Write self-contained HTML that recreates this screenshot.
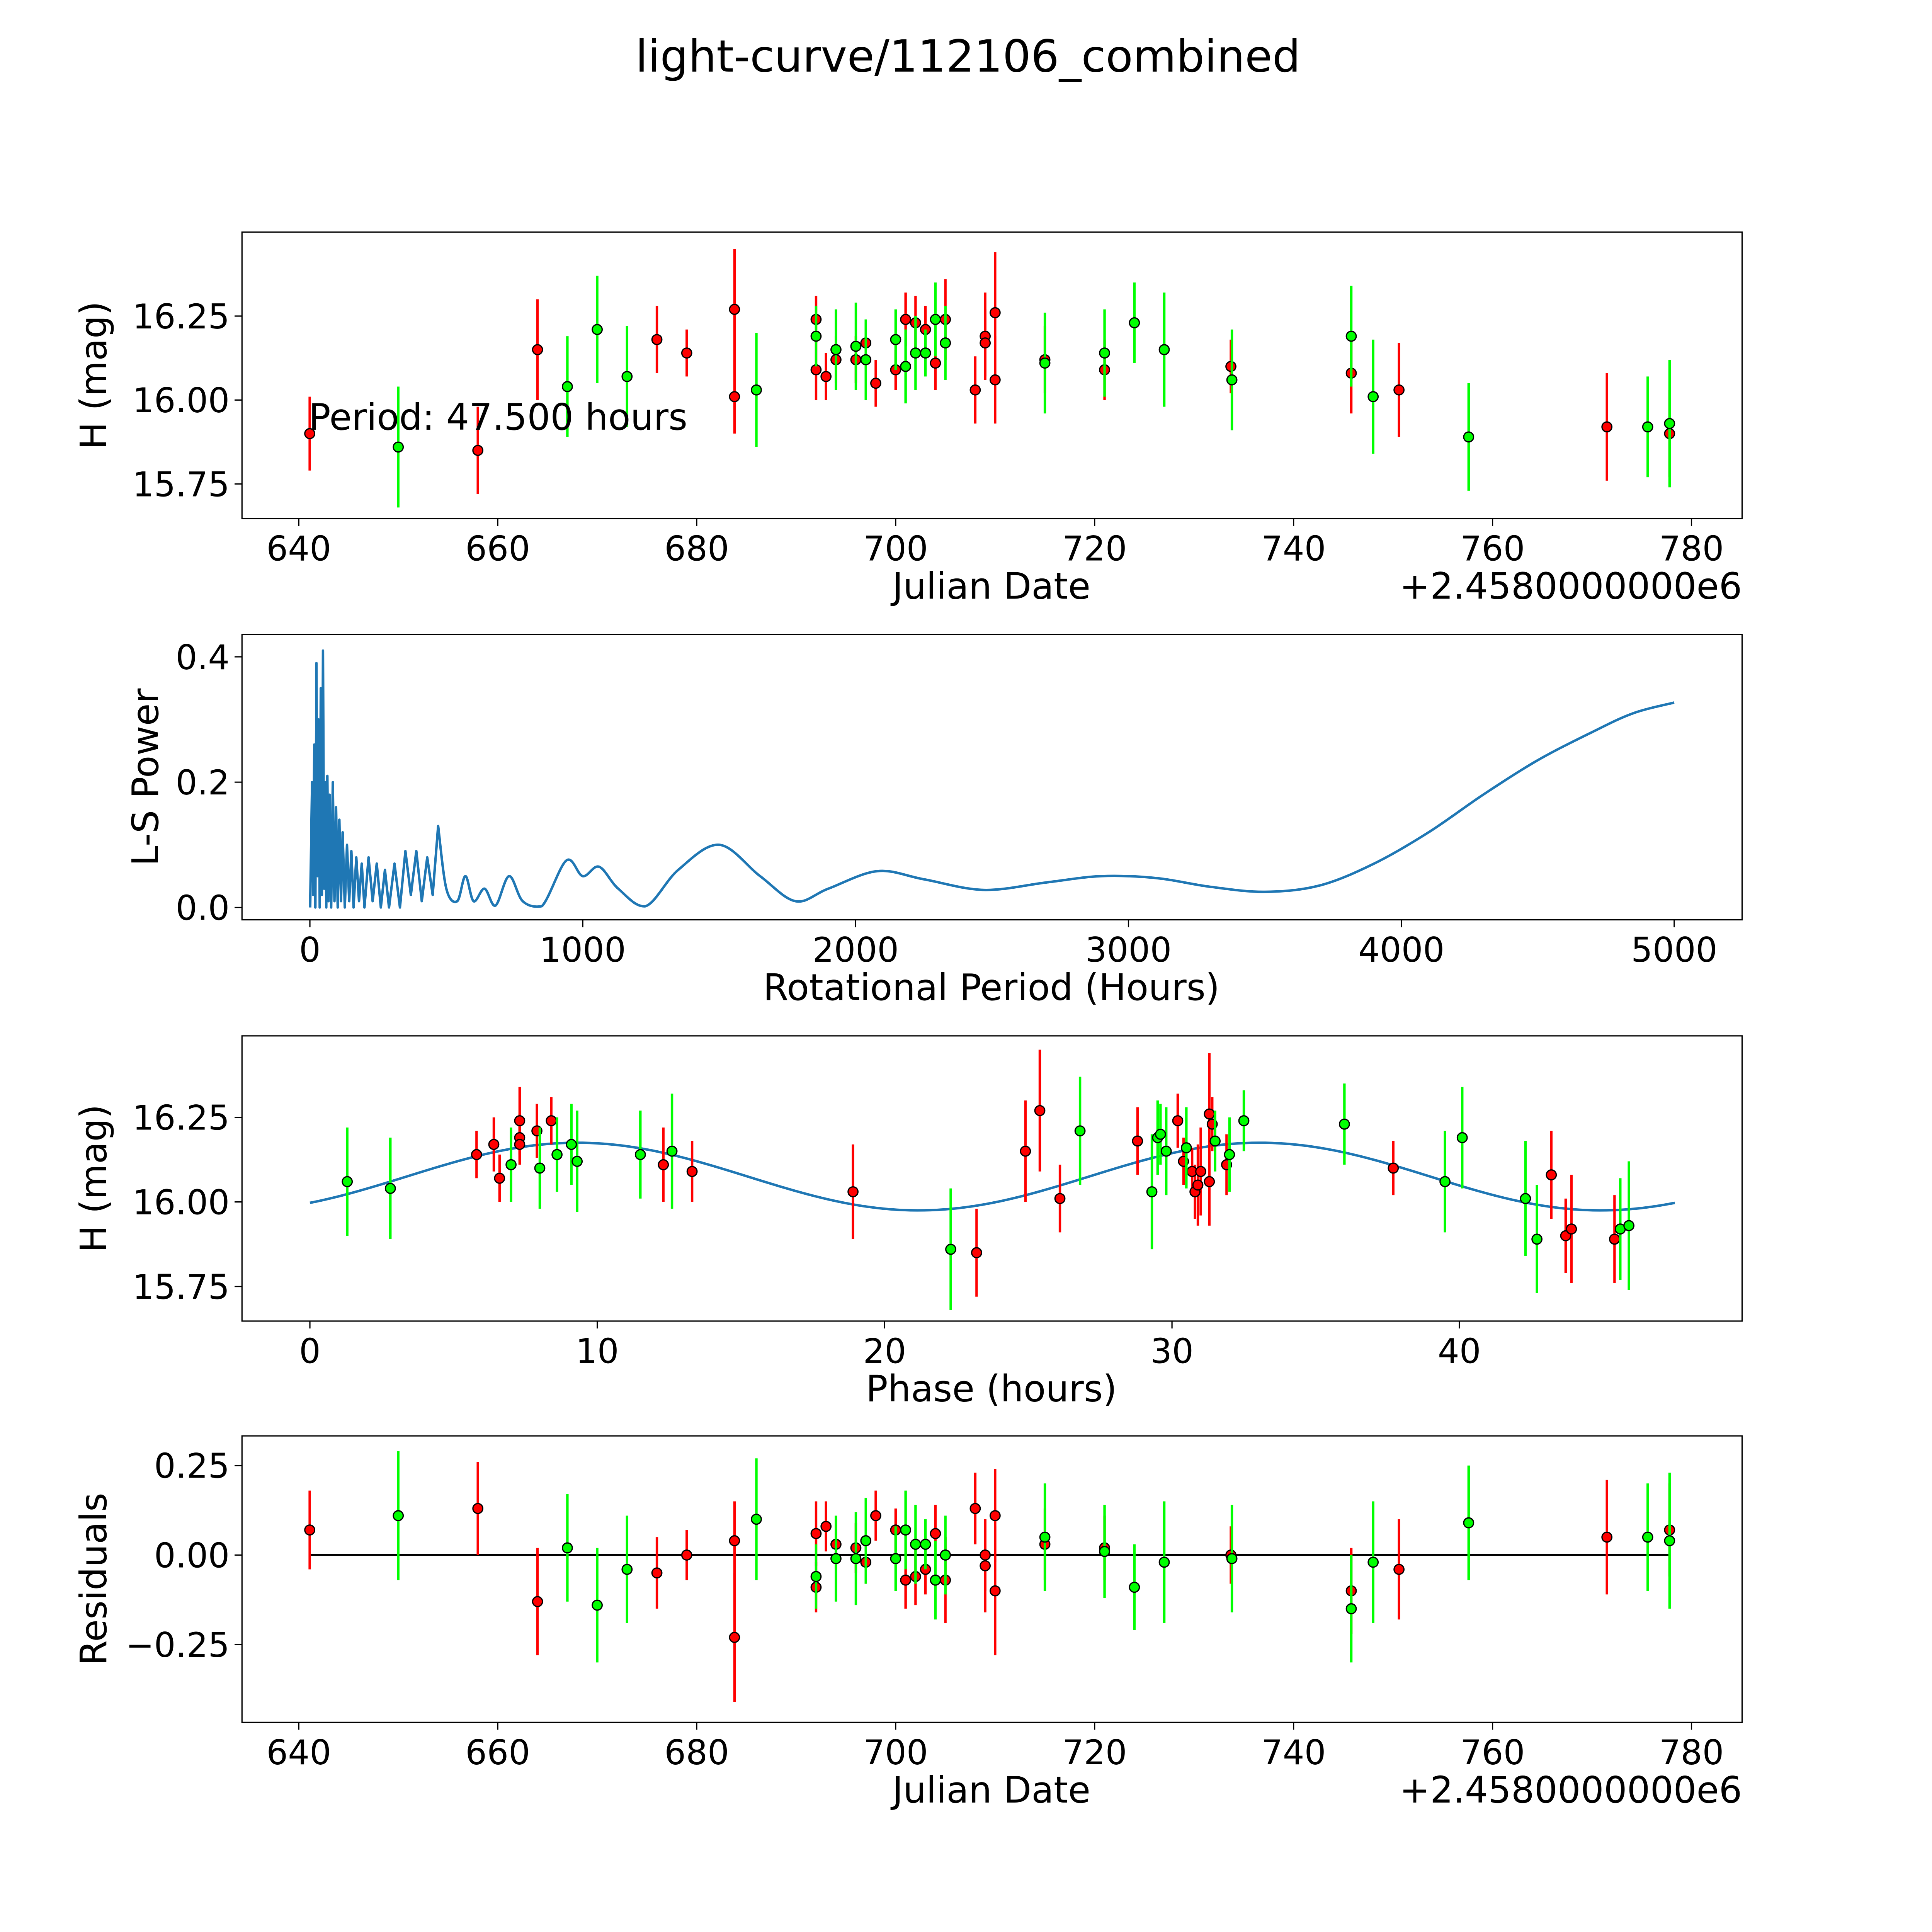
<!DOCTYPE html>
<html><head><meta charset="utf-8"><style>html,body{margin:0;padding:0;background:#fff;overflow:hidden;width:5400px;height:5400px}svg{display:block}</style></head>
<body>
<svg id="fig" xmlns="http://www.w3.org/2000/svg" width="5400" height="5400" viewBox="0 0 1690 1690" font-family="'DejaVu Sans','Liberation Sans',sans-serif">
<rect width="1690" height="1690" fill="#fff"/>
<text x="784" y="58" font-size="36" text-anchor="middle">light-curve/112106_combined</text>
</svg>
<script>
const redJD=[641.1,658,664,676,679,683.8,683.8,692,692,693,694,696,697,698,700,701,702,703,704,705,708,709,709,710,710,715,721,733.7,745.8,750.6,771.5,777.8];
const redMag=[15.90,15.85,16.15,16.18,16.14,16.27,16.01,16.24,16.09,16.07,16.12,16.12,16.17,16.05,16.09,16.24,16.23,16.21,16.11,16.24,16.03,16.19,16.17,16.26,16.06,16.12,16.09,16.10,16.08,16.03,15.92,15.90];
const redErr=[0.11,0.13,0.15,0.1,0.07,0.18,0.11,0.07,0.09,0.07,0.07,0.07,0.06,0.07,0.06,0.08,0.08,0.07,0.08,0.12,0.1,0.13,0.1,0.18,0.13,0.1,0.09,0.08,0.12,0.14,0.16,0.13];
const redRes=[0.07,0.13,-0.13,-0.05,0.0,-0.23,0.04,-0.09,0.06,0.08,0.03,0.02,-0.02,0.11,0.07,-0.07,-0.06,-0.04,0.06,-0.07,0.13,-0.03,0.0,-0.10,0.11,0.03,0.02,0.0,-0.10,-0.04,0.05,0.07];
const greenJD=[650,667,670,673,686,692,694,696,697,700,701,702,703,704,705,715,721,724,727,733.8,745.8,748,757.6,775.6,777.8];
const greenMag=[15.86,16.04,16.21,16.07,16.03,16.19,16.15,16.16,16.12,16.18,16.10,16.14,16.14,16.24,16.17,16.11,16.14,16.23,16.15,16.06,16.19,16.01,15.89,15.92,15.93];
const greenErr=[0.18,0.15,0.16,0.15,0.17,0.09,0.12,0.13,0.12,0.09,0.11,0.11,0.07,0.11,0.11,0.15,0.13,0.12,0.17,0.15,0.15,0.17,0.16,0.15,0.19];
const greenRes=[0.11,0.02,-0.14,-0.04,0.10,-0.06,-0.01,-0.01,0.04,-0.01,0.07,0.03,0.03,-0.07,0.0,0.05,0.01,-0.09,-0.02,-0.01,-0.15,-0.02,0.09,0.05,0.04];
const redPhase=[5.8,6.4,6.6,7.3,7.3,7.3,7.9,8.4,12.3,13.3,18.9,23.2,24.9,25.4,26.1,28.8,30.2,30.4,30.7,30.8,30.9,31.0,31.3,31.3,31.4,31.9,37.7,43.2,43.7,43.9,45.4];
const redPhaseMag=[16.14,16.17,16.07,16.24,16.19,16.17,16.21,16.24,16.11,16.09,16.03,15.85,16.15,16.27,16.01,16.18,16.24,16.12,16.09,16.03,16.05,16.09,16.26,16.06,16.23,16.11,16.10,16.08,15.90,15.92,15.89];
const redPhaseErr=[0.07,0.08,0.07,0.1,0.07,0.06,0.08,0.07,0.11,0.09,0.14,0.13,0.15,0.18,0.1,0.1,0.08,0.07,0.07,0.08,0.12,0.13,0.18,0.13,0.08,0.09,0.08,0.13,0.11,0.16,0.13];
const greenPhase=[1.3,2.8,7.0,8.0,8.6,9.1,9.3,11.5,12.6,22.3,26.8,29.3,29.5,29.6,29.8,30.5,31.5,32.0,32.5,36.0,39.5,40.1,42.3,42.7,45.6,45.9];
const greenPhaseMag=[16.06,16.04,16.11,16.10,16.14,16.17,16.12,16.14,16.15,15.86,16.21,16.03,16.19,16.20,16.15,16.16,16.18,16.14,16.24,16.23,16.06,16.19,16.01,15.89,15.92,15.93];
const greenPhaseErr=[0.16,0.15,0.11,0.12,0.11,0.12,0.15,0.13,0.17,0.18,0.16,0.17,0.11,0.09,0.13,0.12,0.09,0.11,0.09,0.12,0.15,0.15,0.17,0.16,0.15,0.19];
const lsPeriod=[1,8,12,16,20,24,28,32,36,40,44,48,52,56,60,64,68,72,78,84,90,96,102,108,114,120,128,136,144,152,160,170,180,190,200,215,230,245,260,275,290,310,330,350,370,390,410,430,450,470,500,540,570,600,640,680,730,780,850,940,1000,1060,1130,1230,1350,1500,1650,1780,1900,2080,2250,2470,2700,2900,3100,3300,3500,3700,3900,4100,4300,4500,4700,4850,5000];
const lsPower=[0,0.2,0.02,0.26,0,0.39,0.05,0.3,0,0.35,0.02,0.41,0.03,0.2,0,0.21,0.01,0.18,0,0.2,0.01,0.16,0,0.14,0.01,0.12,0,0.1,0.01,0.09,0,0.08,0.01,0.07,0,0.08,0.01,0.07,0,0.06,0,0.07,0,0.09,0.02,0.09,0.01,0.08,0.02,0.13,0.03,0.01,0.05,0.01,0.03,0.003,0.05,0.01,0.002,0.075,0.05,0.065,0.03,0.002,0.06,0.1,0.05,0.01,0.03,0.058,0.045,0.028,0.04,0.05,0.047,0.033,0.025,0.035,0.07,0.12,0.18,0.235,0.28,0.31,0.327];
const jdTicks=[640,660,680,700,720,740,760,780];
const magTicks=[15.75,16.00,16.25];
const lsXTicks=[0,1000,2000,3000,4000,5000];
const lsYTicks=[0.0,0.2,0.4];
const phTicks=[0,10,20,30,40];
const resTicks=[-0.25,0.00,0.25];
const PERIOD=47.5, MEAN=16.075, AMP=0.1, PEAK=9.3;

const svg=document.getElementById('fig');const NS='http://www.w3.org/2000/svg';
function el(t,a,p){const e=document.createElementNS(NS,t);for(const k in a)e.setAttribute(k,a[k]);(p||svg).appendChild(e);return e;}
function lin(d0,d1,r0,r1){return v=>r0+(v-d0)*(r1-r0)/(d1-d0);}
const model=p=>MEAN+AMP*Math.cos(2*Math.PI*(p-PEAK)/(PERIOD/2));

function axes(name,y0,y1,xs,ys,xt,yt,xfmt,yfmt,xlabel,ylabel,offset){
  const g=el('g',{});
  el('rect',{x:196,y:y0,width:1215,height:y1-y0,fill:'none',stroke:'#000','stroke-width':1},g);
  xt.forEach(v=>{const x=xs(v);el('line',{x1:x,x2:x,y1:y1,y2:y1+6,stroke:'#000'},g);
    const t=el('text',{x:x,y:y1+34,'font-size':27.5,'text-anchor':'middle'},g);t.textContent=xfmt(v);
    });
  yt.forEach(v=>{const y=ys(v);el('line',{x1:190,x2:196,y1:y,y2:y,stroke:'#000'},g);
    const t=el('text',{x:186,y:y+10,'font-size':27.5,'text-anchor':'end'},g);t.textContent=yfmt(v);
    });
  const xl=el('text',{x:803,y:y1+65,'font-size':29.5,'text-anchor':'middle'},g);xl.textContent=xlabel;
  
  const cy=(y0+y1)/2;const yl=el('text',{x:0,y:0,'font-size':29.5,'text-anchor':'middle',transform:`translate(${ylabel[1]},${cy}) rotate(-90)`},g);yl.textContent=ylabel[0];
  
  if(offset){const o=el('text',{x:1411,y:y1+65,'font-size':29.5,'text-anchor':'end'},g);o.textContent=offset;
    }
  return g;
}
function pts(g,xsArr,ysArr,es,color,xs,ys){
  xsArr.forEach((xv,i)=>{const x=xs(xv);
    const l=el('line',{x1:x,x2:x,y1:ys(ysArr[i]+es[i]),y2:ys(ysArr[i]-es[i]),stroke:color,'stroke-width':2},g);
    });
  xsArr.forEach((xv,i)=>{const c=el('circle',{cx:xs(xv),cy:ys(ysArr[i]),r:4,fill:color,stroke:'#000','stroke-width':1},g);
    });
}
const f2=v=>v.toFixed(2), f1=v=>v.toFixed(1), f0=v=>String(v);
const fr=v=>(v<0?'\u22120.25':v.toFixed(2));

// Panel 1
let xs=lin(640,780,242,1370),ys=lin(16.25,15.75,256,392);
let g=axes('light-curve-panel',188,420,xs,ys,jdTicks,magTicks,f0,f2,'Julian Date',['H (mag)',86],'+2.4580000000e6');
pts(g,redJD,redMag,redErr,'#ff0000',xs,ys);pts(g,greenJD,greenMag,greenErr,'#00ff00',xs,ys);
let pt=el('text',{x:250,y:348,'font-size':29.5},g);pt.textContent='Period: 47.500 hours';


// Panel 2
xs=lin(0,5000,251,1356);ys=lin(0,0.4,735,532);
g=axes('periodogram-panel',514,745,xs,ys,lsXTicks,lsYTicks,f0,f1,'Rotational Period (Hours)',['L-S Power',128]);
(function(){
  const P=lsPeriod.map((p,i)=>[xs(p),ys(lsPower[i])]);
  const split=lsPeriod.findIndex(p=>p>=470);
  let d='M'+P[0][0]+','+P[0][1];
  for(let i=1;i<=split;i++)d+=' L'+P[i][0]+','+P[i][1];
  for(let i=split;i<P.length-1;i++){
    const p0=P[Math.max(i-1,split)],p1=P[i],p2=P[i+1],p3=P[Math.min(i+2,P.length-1)];
    const lo=ys(0);
    const c1=[p1[0]+(p2[0]-p0[0])/6,Math.min(lo,p1[1]+(p2[1]-p0[1])/6)],c2=[p2[0]-(p3[0]-p1[0])/6,Math.min(lo,p2[1]-(p3[1]-p1[1])/6)];
    d+=` C${c1[0]},${c1[1]} ${c2[0]},${c2[1]} ${p2[0]},${p2[1]}`;
  }
  const pl=el('path',{d:d,fill:'none',stroke:'#1f77b4','stroke-width':2,'stroke-linejoin':'round'},g);
  
})();

// Panel 3
xs=lin(0,40,251,1182);ys=lin(16.25,15.75,905,1042);
g=axes('phase-folded-panel',839,1070,xs,ys,phTicks,magTicks,f0,f2,'Phase (hours)',['H (mag)',86]);
let mp=[];for(let i=0;i<=200;i++){const p=PERIOD*i/200;mp.push(xs(p)+','+ys(model(p)));}
let pl=el('polyline',{points:mp.join(' '),fill:'none',stroke:'#1f77b4','stroke-width':2},g);

pts(g,redPhase,redPhaseMag,redPhaseErr,'#ff0000',xs,ys);pts(g,greenPhase,greenPhaseMag,greenPhaseErr,'#00ff00',xs,ys);

// Panel 4
xs=lin(640,780,242,1370);ys=lin(0.25,-0.25,1187,1332);
g=axes('residuals-panel',1163,1395,xs,ys,jdTicks,resTicks,f0,fr,'Julian Date',['Residuals',86],'+2.4580000000e6');
pl=el('line',{x1:xs(641.1),x2:xs(777.8),y1:ys(0),y2:ys(0),stroke:'#000','stroke-width':1.5},g);

pts(g,redJD,redRes,redErr,'#ff0000',xs,ys);
pts(g,greenJD,greenRes,greenErr,'#00ff00',xs,ys);
</script>
</body></html>
